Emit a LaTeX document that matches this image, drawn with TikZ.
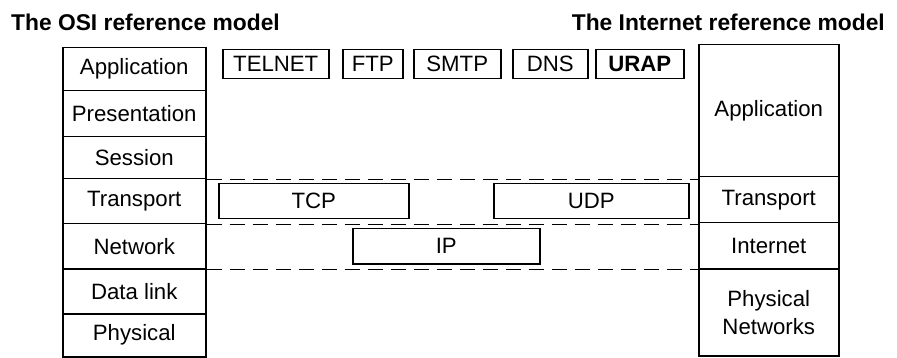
\documentclass[tikz,border=0pt]{standalone}
\usepackage{fontspec}
\setmainfont{Liberation Sans}
\begin{document}
\begin{tikzpicture}[x=1pt,y=-1pt,
  lay/.style={draw, line width=1.5pt, inner sep=0pt, anchor=north west, align=center,
    font=\fontsize{22.2}{28}\selectfont},
  proto/.style={lay, minimum height=29pt},
  mid/.style={lay, minimum height=35pt},
  sepline/.style={line width=1.5pt, dash pattern=on 15pt off 8pt},
  title/.style={font=\bfseries\fontsize{22.8}{24}\selectfont, inner sep=0pt}]
\useasboundingbox (0,0) rectangle (897,358);
% titles
\node[title, anchor=west] (tosi) at (11,22) {The OSI reference model};
\node[title, anchor=east] (tinet) at (885,22) {The Internet reference model};
% OSI stack
\node[lay, minimum width=143pt, minimum height=43pt] (oapp) at (62,47) {Application};
\node[lay, minimum width=143pt, minimum height=46pt] (opres) at (62,90) {Presentation};
\node[lay, minimum width=143pt, minimum height=42pt] (oses) at (62,136) {Session};
\node[lay, minimum width=143pt, minimum height=45pt] (otra) at (62,178) {Transport};
\node[lay, minimum width=143pt, minimum height=45pt] (onet) at (62,223) {Network};
\node[lay, minimum width=143pt, minimum height=45pt] (odl) at (62,268) {Data link};
\node[lay, minimum width=143pt, minimum height=43pt] (ophy) at (62,313) {Physical};
% Internet stack
\node[lay, minimum width=140pt, minimum height=132pt] (iapp) at (698,44) {Application};
\node[lay, minimum width=140pt, minimum height=46pt] (itra) at (698,176) {Transport};
\node[lay, minimum width=140pt, minimum height=46pt] (iint) at (698,222) {Internet};
\node[lay, minimum width=140pt, minimum height=87pt] (iphy) at (698,268) {Physical\\Networks};
% protocols
\node[proto, minimum width=106pt] (telnet) at (222,49) {TELNET};
\node[proto, minimum width=60pt] (ftp) at (342,49) {FTP};
\node[proto, minimum width=87pt] (smtp) at (413,49) {SMTP};
\node[proto, minimum width=75pt] (dns) at (512,49) {DNS};
\node[proto, minimum width=88pt, font=\bfseries\fontsize{22.2}{28}\selectfont] (urap) at (595,49) {URAP};
\node[mid, minimum width=190pt] (tcp) at (218,183) {TCP};
\node[mid, minimum width=195pt] (udp) at (493,183) {UDP};
\node[mid, minimum width=187pt] (ip) at (352,228) {IP};
% dashed separators
\draw[sepline] (oses.south east) -- (oses.south east -| iapp.west);
\draw[sepline] (otra.south east) -- (otra.south east -| itra.west);
\draw[sepline] (onet.south east) -- (onet.south east -| iint.west);
\end{tikzpicture}
\end{document}
